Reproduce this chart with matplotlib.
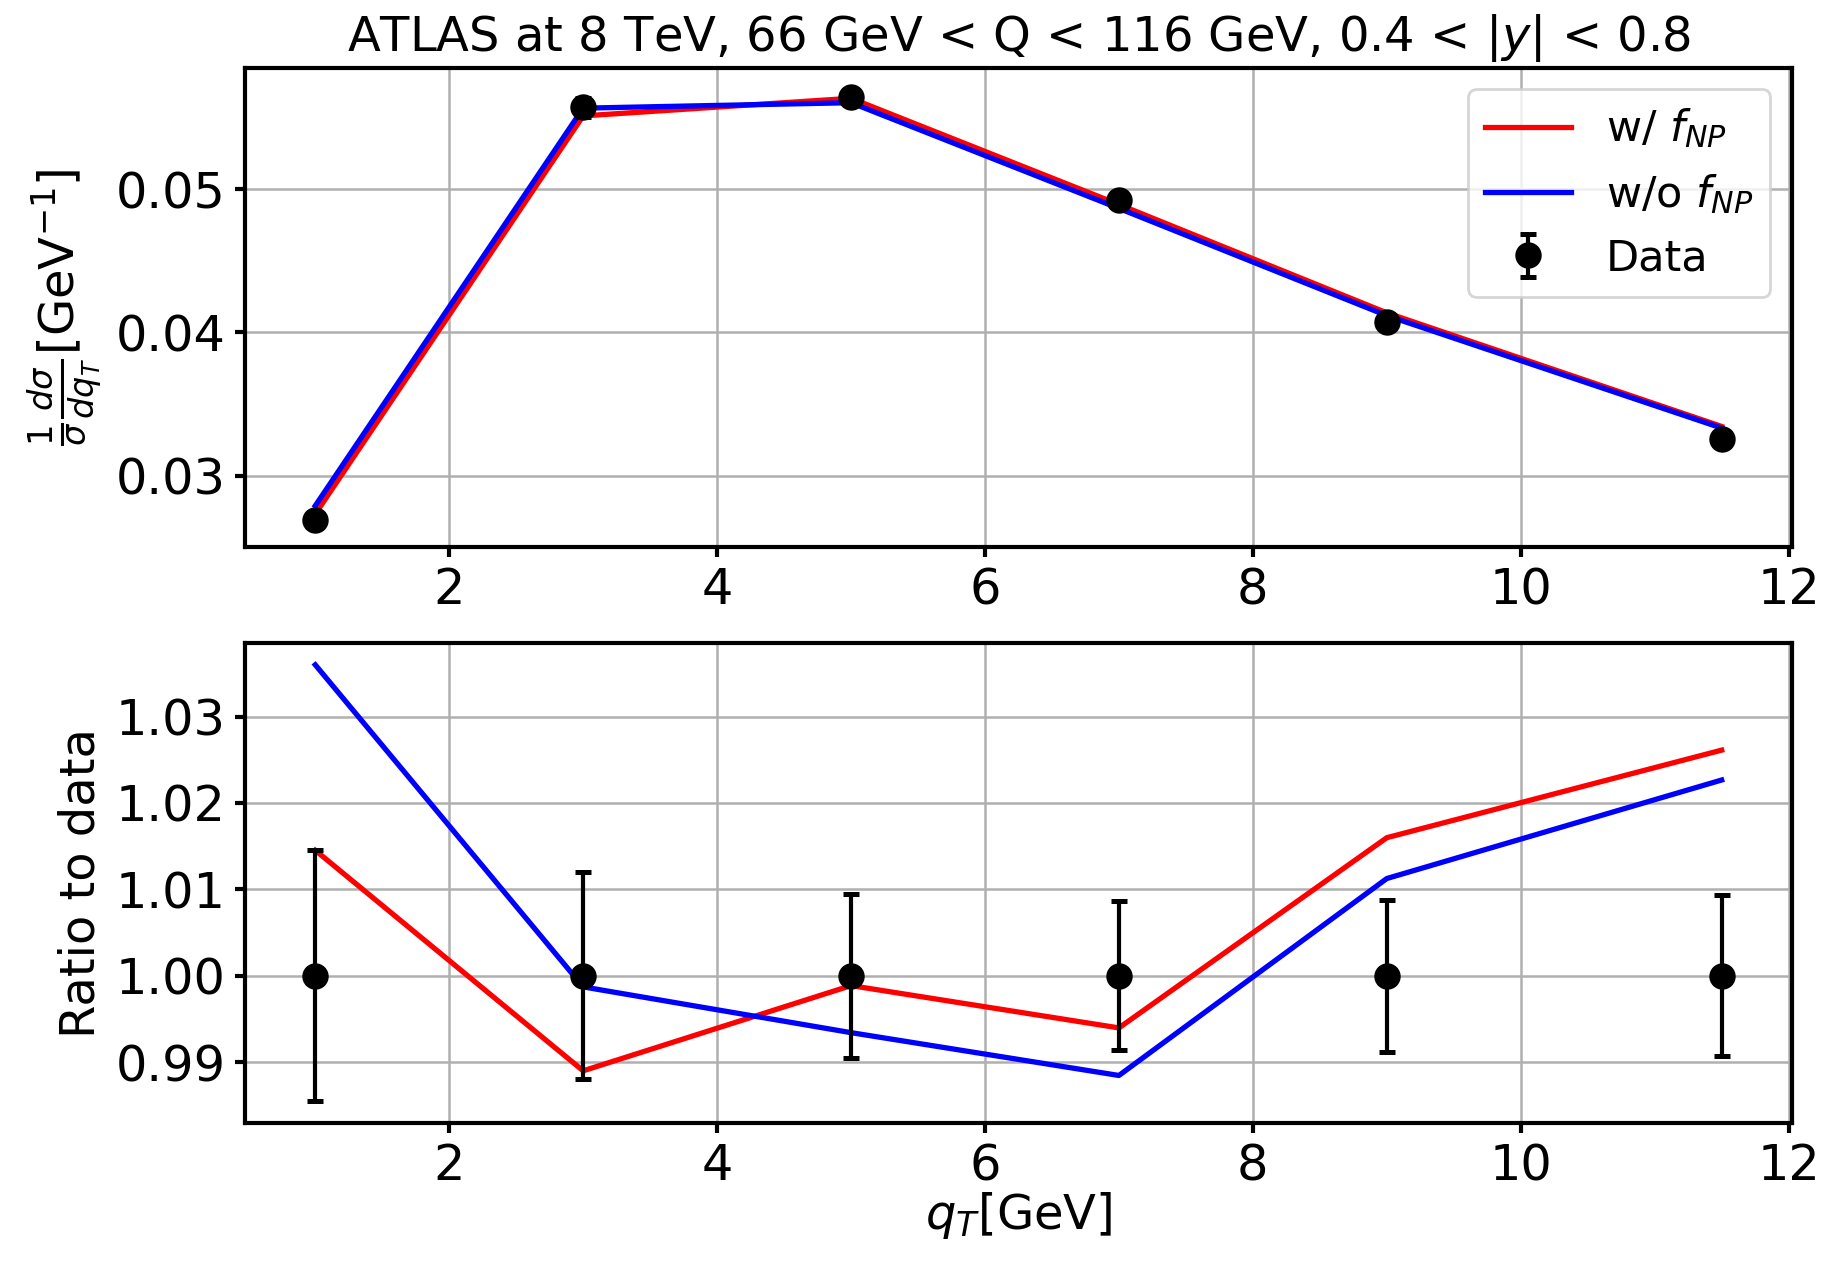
import numpy as np
import matplotlib
matplotlib.use("Agg")
import matplotlib.pyplot as plt

# q_T bin centres [GeV]
qT = [1.0, 3.0, 5.0, 7.0, 9.0, 11.5]

# normalised cross section (1/sigma dsigma/dqT) [GeV^-1]
data_xs = [0.02692, 0.05575, 0.05643, 0.04924, 0.04072, 0.03258]
# relative data uncertainty
data_rel_err = [0.01453, 0.01200, 0.00950, 0.00866, 0.00880, 0.00935]

# theory / data ratios
ratio_with_fnp = [1.01452, 0.98898, 0.99885, 0.99395, 1.01598, 1.02612]
ratio_without_fnp = [1.03600, 0.99870, 0.99340, 0.98844, 1.01125, 1.02266]

title = r"ATLAS at 8 TeV, 66 GeV < Q < 116 GeV, 0.4 < $|y|$ < 0.8"
label_with = r"w/ $f_{NP}$"
label_without = r"w/o $f_{NP}$"
label_data = "Data"

FS = 17.3
FS_TICK = 17.8
FS_LEG = 15.5
plt.rcParams.update({
    "font.family": "DejaVu Sans",
    "mathtext.fontset": "dejavusans",
    "font.size": FS,
    "axes.linewidth": 1.5,
    "xtick.major.width": 1.5,
    "ytick.major.width": 1.5,
    "xtick.major.size": 3.5,
    "ytick.major.size": 3.5,
    "xtick.labelsize": FS_TICK,
    "ytick.labelsize": FS_TICK,
})

x = np.array(qT)
y = np.array(data_xs)
rel = np.array(data_rel_err)
r_with = np.array(ratio_with_fnp)
r_without = np.array(ratio_without_fnp)

fig = plt.figure(figsize=(9.14, 6.325), dpi=200)
ax1 = fig.add_axes([0.1340, 0.5676, 0.8463, 0.3787])
ax2 = fig.add_axes([0.1340, 0.1123, 0.8463, 0.3794])

line_kw = dict(lw=1.9)
err_kw = dict(fmt="o", color="black", ms=8.5, elinewidth=1.5,
              capsize=3, capthick=1.8)

# upper panel: cross section
ax1.plot(x, r_with * y, color="red", label=label_with, **line_kw)
ax1.plot(x, r_without * y, color="blue", label=label_without, **line_kw)
ax1.errorbar(x, y, yerr=rel * y, label=label_data, **err_kw)
ax1.set_ylabel(r"$\frac{1}{\sigma}\frac{d\sigma}{dq_T}$[GeV$^{-1}$]", fontsize=FS)
ax1.set_title(title, fontsize=FS)
ax1.set_yticks([0.03, 0.04, 0.05])
ax1.grid(True, color="#b0b0b0", lw=0.9)
ax1.set_axisbelow(True)
ax1.legend(loc="upper right", fontsize=FS_LEG, handlelength=2.0)

# lower panel: ratio to data
ax2.plot(x, r_with, color="red", **line_kw)
ax2.plot(x, r_without, color="blue", **line_kw)
ax2.errorbar(x, np.ones_like(x), yerr=rel, **err_kw)
ax2.set_ylabel("Ratio to data", fontsize=FS)
ax2.set_xlabel(r"$q_T$[GeV]", fontsize=FS, labelpad=0)
ax2.set_yticks([0.99, 1.00, 1.01, 1.02, 1.03])
ax2.grid(True, color="#b0b0b0", lw=0.9)
ax2.set_axisbelow(True)

for ax in (ax1, ax2):
    ax.set_xticks([2, 4, 6, 8, 10, 12])

fig.savefig("out.png", dpi=200)
